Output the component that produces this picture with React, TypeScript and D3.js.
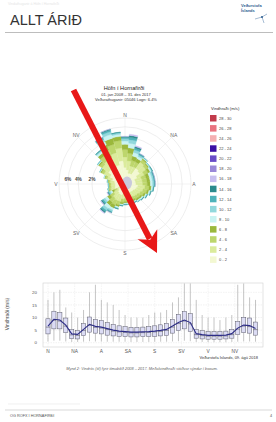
import * as d3 from "d3";

// wind rose: percent of observations per direction (every 10°) and speed bin
const DIRECTIONS = [0, 10, 20, 30, 40, 50, 60, 70, 80, 90, 100, 110, 120, 130, 140, 150, 160, 170, 180, 190, 200, 210, 220, 230, 240, 250, 260, 270, 280, 290, 300, 310, 320, 330, 340, 350];
const BIN_LABELS = ["0 - 2", "2 - 4", "4 - 6", "6 - 8", "8 - 10", "10 - 12", "12 - 14", "14 - 16", "16 - 18", "18 - 20", "20 - 22", "22 - 24", "24 - 26", "26 - 28", "28 - 30"];
const BIN_COLORS = ["#f3f8d2", "#dbeb9c", "#bdd66c", "#9bb83c", "#c9f3f2", "#92d8dc", "#4fb3ba", "#2c8b8d", "#c9bff0", "#9b88d8", "#6a4cc7", "#3b0ea4", "#f5afb1", "#e9737f", "#c23a4b"];

const b0_2 = [0.50, 0.37, 0.23, 0.25, 0.67, 0.60, 0.34, 0.20, 0.21, 0.22, 0.31, 0.27, 0.23, 0.19, 0.18, 0.16, 0.16, 0.17, 0.16, 0.18, 0.25, 0.23, 0.19, 0.13, 0.06, 0.21, 0.19, 0.18, 0.21, 0.32, 0.51, 0.74, 0.64, 0.60, 0.72, 1.00];
const b2_4 = [0.84, 0.64, 0.41, 0.42, 0.63, 0.56, 0.48, 0.34, 0.35, 0.35, 0.43, 0.38, 0.32, 0.27, 0.25, 0.22, 0.23, 0.22, 0.22, 0.25, 0.35, 0.38, 0.34, 0.23, 0.10, 0.20, 0.17, 0.18, 0.20, 0.30, 0.48, 0.69, 0.90, 1.00, 1.20, 1.40];
const b4_6 = [0.84, 0.74, 0.46, 0.42, 0.32, 0.29, 0.37, 0.34, 0.33, 0.34, 0.34, 0.30, 0.25, 0.21, 0.20, 0.18, 0.17, 0.17, 0.18, 0.20, 0.27, 0.38, 0.38, 0.26, 0.12, 0.10, 0.09, 0.09, 0.10, 0.15, 0.25, 0.36, 0.70, 1.00, 1.20, 1.10];
const b6_8 = [0.71, 0.69, 0.44, 0.36, 0.15, 0.14, 0.24, 0.29, 0.28, 0.28, 0.22, 0.19, 0.16, 0.14, 0.13, 0.11, 0.11, 0.11, 0.11, 0.13, 0.17, 0.32, 0.36, 0.25, 0.11, 0.05, 0.04, 0.04, 0.05, 0.07, 0.12, 0.17, 0.45, 0.85, 1.02, 0.70];
const b8_10 = [0.50, 0.64, 0.41, 0.25, 0.08, 0.07, 0.14, 0.20, 0.21, 0.20, 0.12, 0.11, 0.09, 0.08, 0.07, 0.06, 0.07, 0.07, 0.06, 0.07, 0.10, 0.23, 0.34, 0.23, 0.10, 0.02, 0.02, 0.02, 0.02, 0.04, 0.06, 0.08, 0.26, 0.60, 0.72, 0.40];
const b10_12 = [0.38, 0.55, 0.35, 0.19, 0.04, 0.03, 0.09, 0.15, 0.15, 0.15, 0.08, 0.07, 0.06, 0.05, 0.05, 0.04, 0.04, 0.04, 0.04, 0.04, 0.06, 0.17, 0.29, 0.20, 0.09, 0.01, 0.01, 0.01, 0.01, 0.02, 0.02, 0.04, 0.16, 0.45, 0.54, 0.25];
const b12_14 = [0.25, 0.41, 0.26, 0.13, 0.02, 0.02, 0.03, 0.10, 0.10, 0.10, 0.03, 0.03, 0.02, 0.02, 0.02, 0.02, 0.01, 0.02, 0.02, 0.02, 0.03, 0.11, 0.22, 0.15, 0.07, 0.01, 0.01, 0.01, 0.01, 0, 0.01, 0.02, 0.06, 0.30, 0.36, 0.10];
const b14_16 = [0.13, 0.32, 0.20, 0.06, 0, 0, 0.02, 0.05, 0.05, 0.04, 0.02, 0.01, 0.01, 0.01, 0, 0.01, 0.01, 0, 0.01, 0.01, 0.02, 0.06, 0.17, 0.12, 0.05, 0, 0, 0, 0, 0, 0, 0, 0.03, 0.15, 0.18, 0.05];
const b16_18 = [0.04, 0.23, 0.15, 0.02, 0, 0, 0, 0.02, 0.02, 0.01, 0, 0, 0, 0, 0, 0, 0, 0, 0, 0, 0, 0.02, 0.11, 0.08, 0.04, 0, 0, 0, 0, 0, 0, 0, 0, 0.05, 0.06, 0];
const ROSE_BINS = [b0_2, b2_4, b4_6, b6_8, b8_10, b10_12, b12_14, b14_16, b16_18];
const RING_PCTS = [2, 4, 6, 8];
const COMPASS = ["N", "NA", "A", "SA", "S", "SV", "V", "NV"];

// box plot: wind speed (m/s) per direction
const WHISK_LO = [0.5, 0.8, 0.8, 0.5, 0.3, 0.3, 0.4, 0.6, 0.5, 0.5, 0.4, 0.4, 0.4, 0.4, 0.3, 0.3, 0.3, 0.3, 0.4, 0.4, 0.4, 0.5, 0.6, 0.8, 0.6, 0.3, 0.3, 0.2, 0.2, 0.2, 0.2, 0.3, 0.4, 0.5, 0.5, 0.4];
const Q1 = [3.5, 5.5, 5.5, 4.0, 1.6, 1.5, 2.8, 4.2, 3.8, 3.5, 3.0, 2.7, 2.5, 2.4, 2.3, 2.3, 2.4, 2.4, 2.5, 2.7, 2.9, 3.8, 4.8, 5.5, 4.5, 1.8, 1.5, 1.4, 1.4, 1.4, 1.5, 1.8, 3.2, 4.0, 3.8, 3.0];
const MEDIAN = [6.2, 8.9, 8.6, 6.6, 3.1, 2.9, 4.9, 6.9, 6.1, 5.8, 5.2, 4.6, 4.3, 4.1, 3.9, 3.9, 4.0, 4.1, 4.3, 4.5, 4.9, 6.2, 7.6, 8.6, 7.5, 3.2, 2.8, 2.6, 2.6, 2.6, 2.7, 3.2, 5.4, 6.6, 6.4, 5.2];
const Q3 = [9.5, 12.5, 12.0, 9.8, 5.2, 4.9, 7.6, 10.2, 9.2, 8.8, 8.0, 7.2, 6.7, 6.4, 6.1, 6.1, 6.2, 6.4, 6.7, 7.1, 7.7, 9.3, 11.2, 12.4, 11.5, 5.3, 4.8, 4.4, 4.4, 4.4, 4.6, 5.3, 8.4, 10.1, 9.8, 8.2];
const WHISK_HI = [17, 20, 21, 14, 12, 10, 13, 20, 23, 17, 16, 15, 13, 11, 10, 10, 10, 11, 12, 12, 13, 16, 18, 23.5, 23.5, 17, 11, 10, 10, 9, 10, 11, 23, 23.5, 18, 17];
const MEAN = [6.6, 9.3, 9.0, 7.0, 3.5, 3.3, 5.3, 7.3, 6.5, 6.2, 5.6, 5.0, 4.6, 4.4, 4.2, 4.2, 4.3, 4.4, 4.6, 4.9, 5.3, 6.6, 8.0, 9.0, 8.0, 3.6, 3.2, 2.9, 2.9, 2.9, 3.0, 3.6, 5.8, 7.0, 6.8, 5.6];
const Y_TICKS = [0, 5, 10, 15, 20];
const X_TICKS = [0, 45, 90, 135, 180, 225, 270, 315];

const FONT = "'Liberation Sans', Arial, sans-serif";
const rad = (deg: number) => (deg * Math.PI) / 180;

function WindRose() {
  const cx = 125;
  const cy = 184;
  const r = d3.scaleSqrt().domain([0, 8]).range([0, 66]);
  const arc = d3.arc<any>();
  const labelR = 69;

  const petals: JSX.Element[] = [];
  DIRECTIONS.forEach((deg, i) => {
    let cum = 0;
    ROSE_BINS.forEach((bin, b) => {
      const v = bin[i];
      if (!v) return;
      const d = arc({
        innerRadius: r(cum),
        outerRadius: r(cum + v),
        startAngle: rad(deg - 5),
        endAngle: rad(deg + 5),
      }) as string;
      cum += v;
      petals.push(
        <path key={`${i}-${b}`} d={d} fill={BIN_COLORS[b]} stroke={BIN_COLORS[b]} strokeWidth={0.3} />
      );
    });
  });

  return (
    <g>
      <text x={124} y={90} fontSize={5.6} textAnchor="middle" fill="#222">Höfn í Hornafirði</text>
      <text x={126} y={96} fontSize={4} textAnchor="middle" fill="#333">01. jan 2008 – 31. des 2017</text>
      <text x={126} y={100.5} fontSize={4} textAnchor="middle" fill="#333">Veðurathuganir: 05046  Logn: 6.4%</text>
      <g transform={`translate(${cx},${cy})`}>
        {RING_PCTS.map((p) => (
          <circle key={p} r={r(p)} fill="none" stroke="#e2e2e2" strokeWidth={0.6} />
        ))}
        {COMPASS.map((c, i) => (
          <line key={c} x1={0} y1={0} x2={66 * Math.sin(rad(i * 45))} y2={-66 * Math.cos(rad(i * 45))} stroke="#e6e6e6" strokeWidth={0.5} />
        ))}
        {petals}
        <ellipse cx={2} cy={-1} rx={5} ry={6.5} fill="#c9c9db" />
        {COMPASS.map((c, i) => (
          <text
            key={c}
            x={labelR * Math.sin(rad(i * 45))}
            y={-labelR * Math.cos(rad(i * 45)) + 1.8}
            fontSize={5}
            textAnchor="middle"
            fill="#666"
          >
            {c}
          </text>
        ))}
        {RING_PCTS.slice(0, 3).map((p) => (
          <text key={p} x={-r(p)} y={-3} fontSize={4.8} fontWeight="bold" textAnchor="middle" fill="#444">
            {p}%
          </text>
        ))}
      </g>
      {/* legend */}
      <text x={211} y={110} fontSize={4.2} fill="#333">Vindhraði (m/s)</text>
      {BIN_LABELS.slice().reverse().map((lab, j) => {
        const b = BIN_LABELS.length - 1 - j;
        const y = 115 + j * 10.1;
        return (
          <g key={lab}>
            <rect x={210} y={y} width={6.5} height={6.5} fill={BIN_COLORS[b]} />
            <text x={219} y={y + 4.8} fontSize={4} fill="#444">{lab}</text>
          </g>
        );
      })}
    </g>
  );
}

function BoxPlot() {
  const left = 43, right = 263, top = 283, bottom = 347;
  const x = d3.scaleLinear().domain([-8.4, 362.6]).range([left, right]);
  const y = d3.scaleLinear().domain([-1.7, 23.7]).range([bottom, top]);
  const bw = 4.2;
  const meanLine = d3
    .line<number>()
    .x((_, i) => x(DIRECTIONS[i]))
    .y((d) => y(d));

  return (
    <g>
      <rect x={left} y={top} width={right - left} height={bottom - top} fill="#fff" stroke="#cfcfcf" strokeWidth={0.6} />
      {Y_TICKS.map((t) => (
        <g key={t}>
          <line x1={left} x2={right} y1={y(t)} y2={y(t)} stroke="#e4e4e4" strokeWidth={0.5} strokeDasharray="1.5,1" />
          <text x={37} y={y(t) + 1.6} fontSize={4.4} textAnchor="end" fill="#555">{t}</text>
        </g>
      ))}
      {X_TICKS.map((t, i) => (
        <g key={t}>
          <line x1={x(t)} x2={x(t)} y1={top} y2={bottom} stroke="#e8e8e8" strokeWidth={0.5} strokeDasharray="1.5,1" />
          <text x={x(t)} y={353} fontSize={4.8} textAnchor="middle" fill="#555">{COMPASS[i]}</text>
        </g>
      ))}
      <text transform="translate(9,314) rotate(-90)" fontSize={4.8} textAnchor="middle" fill="#444">Vindhraði (m/s)</text>
      {DIRECTIONS.map((deg, i) => {
        const cxp = x(deg);
        return (
          <g key={deg}>
            <line x1={cxp} x2={cxp} y1={y(WHISK_HI[i])} y2={y(Q3[i])} stroke="#8a8a8a" strokeWidth={0.5} />
            <line x1={cxp} x2={cxp} y1={y(Q1[i])} y2={y(WHISK_LO[i])} stroke="#8a8a8a" strokeWidth={0.5} />
            <rect x={cxp - bw / 2} y={y(Q3[i])} width={bw} height={y(Q1[i]) - y(Q3[i])} fill="#dcdcf4" stroke="#5a5a6a" strokeWidth={0.5} />
            <line x1={cxp - bw / 2} x2={cxp + bw / 2} y1={y(MEDIAN[i])} y2={y(MEDIAN[i])} stroke="#444" strokeWidth={0.5} />
          </g>
        );
      })}
      <path d={meanLine(MEAN) as string} fill="none" stroke="#2b2b86" strokeWidth={1.1} />
      <text x={258} y={358.5} fontSize={4} textAnchor="end" fill="#333">Veðurstofa Íslands, 09. ágú 2018</text>
      <text x={142} y={369.5} fontSize={3.9} fontStyle="italic" textAnchor="middle" fill="#666">
        Mynd 2: Vindrós (til) fyrir tímabilið 2008 – 2017. Meðalvindhraði stöðvar sýndur í boxum.
      </text>
    </g>
  );
}

function RedArrow() {
  const x0 = 73.5, y0 = 90, tx = 157, ty = 253;
  const len = Math.hypot(tx - x0, ty - y0);
  const ux = (tx - x0) / len, uy = (ty - y0) / len;
  const px = -uy, py = ux;
  const headLen = 21, half = 11, notch = 15;
  const bx = tx - ux * headLen, by = ty - uy * headLen;
  const nx = tx - ux * notch, ny = ty - uy * notch;
  const head = `M${tx},${ty} L${bx + px * half},${by + py * half} L${nx},${ny} L${bx - px * half},${by - py * half} Z`;
  return (
    <g>
      <line x1={x0} y1={y0} x2={nx - ux * 1} y2={ny - uy * 1} stroke="#e81818" strokeWidth={6} />
      <path d={head} fill="#e81818" />
    </g>
  );
}

export default function App() {
  return (
    <svg
      width={276}
      height={422}
      viewBox="0 0 276 422"
      style={{ position: "absolute", left: 0, top: 0, background: "#fff" }}
      fontFamily={FONT}
    >
      <rect width={276} height={422} fill="#fff" />
      {/* header */}
      <text x={8} y={4.5} fontSize={3.5} fill="#e6e6e6">Vindathuganir á Höfn í Hornafirði</text>
      <text x={10} y={25} fontSize={14.5} fill="#333">ALLT ÁRIÐ</text>
      <text x={241} y={7} fontSize={4} fontWeight="bold" fill="#2d5d8f">Veðurstofa</text>
      <text x={241} y={12} fontSize={4} fontWeight="bold" fill="#2d5d8f">Íslands</text>
      <line x1={255} y1={19} x2={262} y2={17} stroke="#6a8fb5" strokeWidth={0.6} />
      <line x1={262} y1={17} x2={267} y2={14} stroke="#6a8fb5" strokeWidth={0.6} />
      <line x1={262} y1={17} x2={264} y2={23} stroke="#6a8fb5" strokeWidth={0.6} />
      <circle cx={262} cy={17} r={1} fill="#2d5d8f" />
      <line x1={5} y1={32.5} x2={273} y2={32.5} stroke="#bdbdbd" strokeWidth={1.2} />

      <WindRose />
      <BoxPlot />
      <RedArrow />

      {/* footer */}
      <line x1={8} y1={404} x2={80} y2={404} stroke="#e6e6e6" strokeWidth={0.6} />
      <line x1={5} y1={410} x2={272} y2={410} stroke="#cfcfcf" strokeWidth={0.8} />
      <text x={10} y={417} fontSize={3.8} fill="#555">OG ROFX Í HORNAFIRÐI</text>
      <text x={272} y={417} fontSize={3.8} textAnchor="end" fill="#555">4</text>
    </svg>
  );
}
